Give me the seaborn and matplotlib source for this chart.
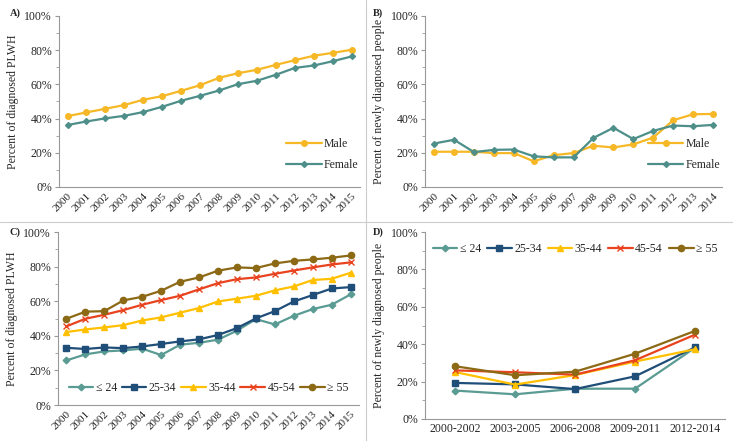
import pandas as pd
import numpy as np
import seaborn as sns
import matplotlib.pyplot as plt
from matplotlib.lines import Line2D
from matplotlib.ticker import PercentFormatter, MultipleLocator

sns.set_style('ticks')
plt.rcParams['font.family'] = ['Liberation Serif', 'DejaVu Serif']

# ---- data ----
years_a = [str(y) for y in range(2000, 2016)]
male_a = [41.4, 43.6, 45.7, 47.9, 51.0, 53.1, 56.2, 59.5, 63.8, 66.5, 68.5, 71.4, 74.1, 76.7, 78.4, 80.2]
female_a = [36.2, 38.3, 40.1, 41.6, 43.8, 46.9, 50.4, 53.3, 56.4, 60.1, 62.1, 65.6, 69.6, 71.0, 73.5, 76.3]

years_b = [str(y) for y in range(2000, 2015)]
male_b = [20.6, 20.6, 20.6, 19.8, 19.8, 15.0, 18.6, 19.8, 24.1, 23.1, 24.9, 28.9, 39.0, 42.5, 42.7]
female_b = [25.4, 27.6, 20.4, 21.7, 21.9, 17.9, 17.3, 17.3, 28.7, 34.6, 28.0, 32.8, 35.9, 35.5, 36.3]

age_groups = ['≤ 24', '25-34', '35-44', '45-54', '≥ 55']
age_c_le24 = [25.8, 29.3, 31.0, 31.6, 32.6, 28.9, 34.9, 36.0, 37.8, 43.0, 49.7, 46.6, 51.6, 55.5, 58.0, 64.0]
age_c_25 = [33.1, 32.4, 33.3, 32.9, 33.9, 35.3, 36.8, 38.0, 40.5, 44.5, 50.1, 54.3, 59.9, 63.6, 67.4, 68.2]
age_c_35 = [42.2, 43.7, 44.9, 46.2, 48.9, 50.7, 53.4, 56.1, 59.9, 61.5, 63.2, 66.3, 68.6, 72.3, 73.0, 76.5]
age_c_45 = [45.5, 49.9, 52.2, 54.9, 58.0, 60.7, 63.2, 66.9, 70.5, 72.8, 73.8, 75.9, 77.8, 79.6, 81.3, 82.5]
age_c_55 = [49.9, 54.0, 54.3, 60.5, 62.6, 66.1, 71.3, 73.8, 77.7, 79.6, 79.2, 81.9, 83.4, 84.2, 85.2, 86.5]

periods_d = ['2000-2002', '2003-2005', '2006-2008', '2009-2011', '2012-2014']
age_d_le24 = [15.2, 13.2, 16.2, 16.2, 38.1]
age_d_25 = [19.3, 18.5, 16.0, 22.8, 38.3]
age_d_35 = [25.1, 18.4, 23.5, 30.7, 37.3]
age_d_45 = [26.0, 25.0, 23.7, 31.4, 45.1]
age_d_55 = [28.2, 23.4, 25.3, 34.9, 47.1]

sex_colors = {'Male': '#F6B826', 'Female': '#4E8F8A'}
sex_markers = {'Male': 'o', 'Female': 'D'}
age_colors = dict(zip(age_groups, ['#5A9B93', '#1F4E79', '#FFC000', '#E8431E', '#8C6914']))
age_markers = dict(zip(age_groups, ['D', 's', '^', 'x', 'o']))

df_a = pd.DataFrame({'year': years_a * 2, 'value': male_a + female_a,
                     'sex': ['Male'] * 16 + ['Female'] * 16})
df_b = pd.DataFrame({'year': years_b * 2, 'value': male_b + female_b,
                     'sex': ['Male'] * 15 + ['Female'] * 15})
df_c = pd.DataFrame({'year': years_a * 5,
                     'value': age_c_le24 + age_c_25 + age_c_35 + age_c_45 + age_c_55,
                     'age': [g for g in age_groups for _ in range(16)]})
df_d = pd.DataFrame({'period': periods_d * 5,
                     'value': age_d_le24 + age_d_25 + age_d_35 + age_d_45 + age_d_55,
                     'age': [g for g in age_groups for _ in range(5)]})

fig = plt.figure(figsize=(7.33, 4.41), dpi=100)
axA = fig.add_axes([0.0805, 0.576, 0.411, 0.388])
axB = fig.add_axes([0.580, 0.576, 0.405, 0.388])
axC = fig.add_axes([0.079, 0.0816, 0.411, 0.392])
axD = fig.add_axes([0.580, 0.0499, 0.409, 0.424])

def draw(ax, df, x, hue, colors, markers, msize):
    for name in colors:
        sub = df[df[hue] == name]
        mk = markers[name]
        sns.lineplot(data=sub, x=x, y='value', ax=ax, color=colors[name],
                     marker=mk, markersize=msize * (0.75 if mk == 'D' else 1.0),
                     linewidth=1.6, markeredgecolor=colors[name],
                     markeredgewidth=1.0, label=name, sort=False)

def style(ax, ylabel, n, rotate=True):
    ax.set_ylim(0, 100)
    ax.set_xlim(-0.45, n - 0.55)
    ax.yaxis.set_major_locator(MultipleLocator(20))
    ax.yaxis.set_minor_locator(MultipleLocator(10))
    ax.yaxis.set_major_formatter(PercentFormatter(decimals=0))
    ax.tick_params(axis='y', which='major', labelsize=8.5, length=3, pad=2, color='#999999')
    ax.tick_params(axis='y', which='minor', length=2, color='#999999')
    ax.tick_params(axis='x', labelsize=8 if rotate else 8.5, length=0, pad=3)
    if rotate:
        for lab in ax.get_xticklabels():
            lab.set_rotation(45)
            lab.set_ha('right')
            lab.set_rotation_mode('anchor')
    ax.set_xlabel('')
    ax.set_ylabel(ylabel, fontsize=8.5, labelpad=4)
    for s in ['top', 'right']:
        ax.spines[s].set_visible(False)
    for s in ['left', 'bottom']:
        ax.spines[s].set_color('#999999')
        ax.spines[s].set_linewidth(0.8)

draw(axA, df_a, 'year', 'sex', sex_colors, sex_markers, 4)
draw(axB, df_b, 'year', 'sex', sex_colors, sex_markers, 4)
draw(axC, df_c, 'year', 'age', age_colors, age_markers, 4.5)
draw(axD, df_d, 'period', 'age', age_colors, age_markers, 4.5)

style(axA, 'Percent of diagnosed PLWH', 16)
style(axB, 'Percent of newly diagnosed people', 15)
style(axC, 'Percent of diagnosed PLWH', 16)
style(axD, 'Percent of newly diagnosed people', 5, rotate=False)
axD.set_xlim(-0.5, 4.5)

for ax in [axA, axB]:
    ax.legend(loc='lower right', bbox_to_anchor=(1.03, 0.03), frameon=False, fontsize=8.5,
              handlelength=3.0, labelspacing=0.8, handletextpad=0.2)
axC.legend(loc='lower center', bbox_to_anchor=(0.5, 0.0), ncol=5, frameon=False, fontsize=8.5,
           handlelength=2.1, columnspacing=0.4, handletextpad=0.2)
axD.legend(loc='upper center', bbox_to_anchor=(0.5, 1.0), ncol=5, frameon=False, fontsize=8.5,
           handlelength=2.1, columnspacing=0.5, handletextpad=0.2)

# panel tags
fig.text(10 / 733, 1 - 16 / 441, 'A)', fontsize=7.5, fontweight='bold')
fig.text(373 / 733, 1 - 16 / 441, 'B)', fontsize=7.5, fontweight='bold')
fig.text(10 / 733, 1 - 235 / 441, 'C)', fontsize=7.5, fontweight='bold')
fig.text(373 / 733, 1 - 235 / 441, 'D)', fontsize=7.5, fontweight='bold')

# divider lines
fig.add_artist(Line2D([366 / 733, 366 / 733], [0, 1], color='#cccccc', lw=0.8))
fig.add_artist(Line2D([0, 1], [1 - 222 / 441, 1 - 222 / 441], color='#cccccc', lw=0.8))

fig.savefig('out.png', dpi=100)
